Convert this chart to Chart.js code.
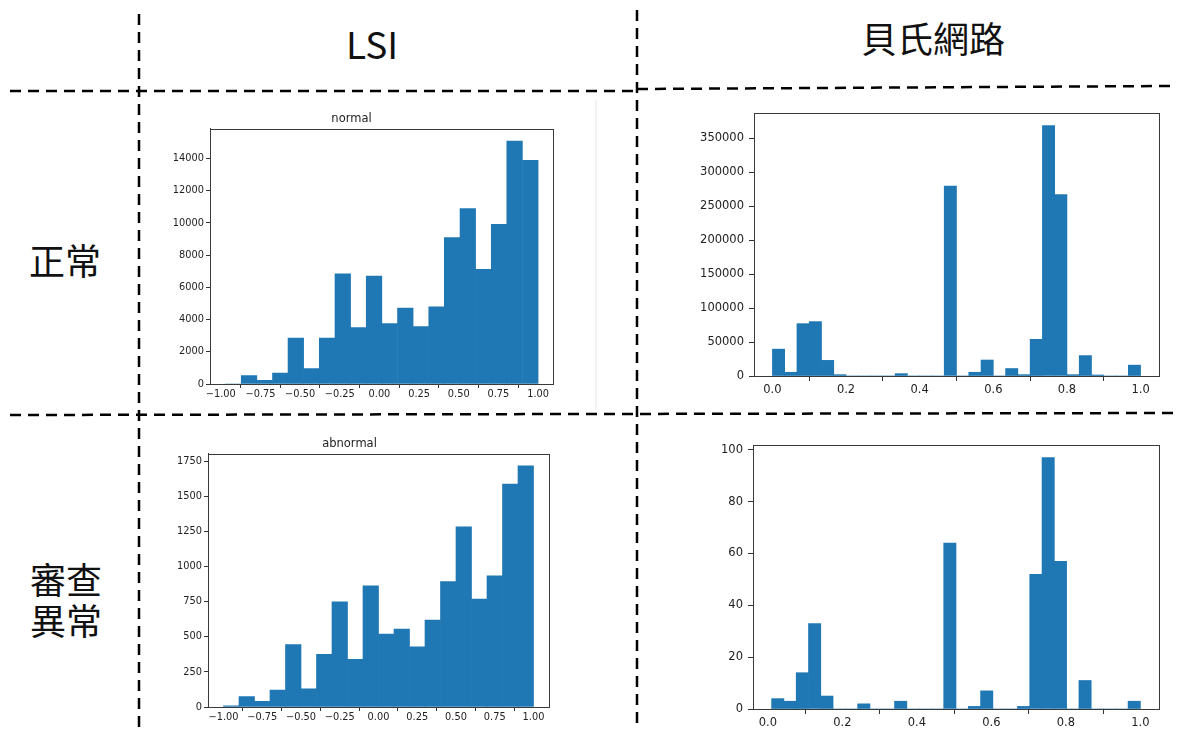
<!DOCTYPE html>
<html>
<head>
<meta charset="utf-8">
<script src="https://cdn.jsdelivr.net/npm/chart.js@4.4.1/dist/chart.umd.min.js"></script>
<style>
  html, body { margin: 0; padding: 0; background: #fff; }
  #stage { position: relative; width: 1178px; height: 730px; overflow: hidden; background: #fff; }
  canvas { position: absolute; }
  .lbl {
    position: absolute; transform: translate(-50%, -50%);
    font-family: "Noto Sans CJK TC", "Noto Sans", sans-serif;
    color: #111; white-space: nowrap; text-align: center;
  }
  svg { position: absolute; left: 0; top: 0; }
</style>
</head>
<body>
<div id="stage">
  <svg width="1178" height="730">
    <line x1="596" y1="100" x2="596" y2="410" stroke="#e6e6e6" stroke-width="1"/>
    <g stroke="#000" stroke-width="2.5" stroke-dasharray="11 7" fill="none">
      <line x1="139" y1="14" x2="139" y2="730"/>
      <line x1="637" y1="10" x2="637" y2="730"/>
      <line x1="10" y1="91" x2="637" y2="91"/>
      <line x1="637" y1="89" x2="1170" y2="86"/>
      <line x1="10" y1="415" x2="1175" y2="413"/>
    </g>
  </svg>

  <div class="lbl" style="left:372px; top:43px; font-size:37px;">LSI</div>
  <div class="lbl" style="left:933px; top:37px; font-size:36px; line-height:36px;">貝氏網路</div>
  <div class="lbl" style="left:65px; top:259px; font-size:36px; line-height:36px;">正常</div>
  <div class="lbl" style="left:66px; top:599px; font-size:36px; line-height:41px;">審查<br>異常</div>

  <canvas id="lsiNormal" width="420" height="310" style="left:150px; top:100px;"></canvas>
  <canvas id="bayesNormal" width="520" height="315" style="left:650px; top:95px;"></canvas>
  <canvas id="lsiAbnormal" width="420" height="305" style="left:150px; top:425px;"></canvas>
  <canvas id="bayesAbnormal" width="520" height="305" style="left:650px; top:425px;"></canvas>
</div>

<script>
// bin centres and counts
const lsiNormalBins = [-0.921, -0.822, -0.724, -0.625, -0.527, -0.428, -0.330, -0.231, -0.133, -0.034,
                       0.064, 0.163, 0.261, 0.360, 0.458, 0.557, 0.655, 0.754, 0.852, 0.951];
const lsiNormalCounts = [0, 520, 230, 680, 2850, 950, 2850, 6850, 3500, 6700,
                         3750, 4720, 3560, 4800, 9090, 10890, 7120, 9920, 15090, 13890];

const lsiAbnormalBins = [-0.95, -0.85, -0.75, -0.65, -0.55, -0.45, -0.35, -0.25, -0.15, -0.05,
                         0.05, 0.15, 0.25, 0.35, 0.45, 0.55, 0.65, 0.75, 0.85, 0.95];
const lsiAbnormalCounts = [8, 75, 40, 120, 445, 130, 375, 750, 340, 865,
                           520, 555, 430, 620, 895, 1285, 770, 935, 1590, 1720];

const bayesNormalBins = [0.0167, 0.05, 0.0833, 0.1167, 0.15, 0.1833, 0.2167, 0.25, 0.2833, 0.3167,
                         0.35, 0.3833, 0.4167, 0.45, 0.4833, 0.5167, 0.55, 0.5833, 0.6167, 0.65,
                         0.6833, 0.7167, 0.75, 0.7833, 0.8167, 0.85, 0.8833, 0.9167, 0.95, 0.9833];
const bayesNormalCounts = [39500, 5500, 77000, 80000, 23000, 2000, 0, 0, 0, 0,
                           3500, 0, 0, 0, 279500, 0, 5500, 23500, 0, 11000,
                           2000, 54000, 368500, 266800, 2000, 30000, 1500, 0, 0, 16000];

const bayesAbnormalBins = [0.0265, 0.0595, 0.0925, 0.1255, 0.1585, 0.1915, 0.2245, 0.2575, 0.2905, 0.3235,
                           0.3565, 0.3895, 0.4225, 0.4555, 0.4885, 0.5215, 0.5545, 0.5875, 0.6205, 0.6535,
                           0.6865, 0.7195, 0.7525, 0.7855, 0.8185, 0.8515, 0.8845, 0.9175, 0.9505, 0.9835];
const bayesAbnormalCounts = [4, 3, 14, 33, 5, 0, 0, 2, 0, 0,
                             3, 0, 0, 0, 64, 0, 1, 7, 0, 0,
                             1, 52, 97, 57, 0, 11, 0, 0, 0, 3];

// tick positions
const lsiXTicks = [-1, -0.75, -0.5, -0.25, 0, 0.25, 0.5, 0.75, 1];
const bayesXTicks = [0, 0.2, 0.4, 0.6, 0.8, 1.0];
const lsiNormalYTicks = [0, 2000, 4000, 6000, 8000, 10000, 12000, 14000];
const lsiAbnormalYTicks = [0, 250, 500, 750, 1000, 1250, 1500, 1750];
const bayesNormalYTicks = [0, 50000, 100000, 150000, 200000, 250000, 300000, 350000];
const bayesAbnormalYTicks = [0, 20, 40, 60, 80, 100];

const BAR_COLOR = "#1f77b4";
const TEXT_COLOR = "#222";
const FONT = "'DejaVu Sans', sans-serif";

// matplotlib-style box around the plot area
const frame = {
  id: "frame",
  afterDraw(chart) {
    const a = chart.chartArea, ctx = chart.ctx;
    ctx.save();
    ctx.strokeStyle = "#3a3a3a";
    ctx.lineWidth = 1;
    ctx.strokeRect(Math.round(a.left) + 0.5, Math.round(a.top) + 0.5,
                   Math.round(a.right - a.left), Math.round(a.bottom - a.top));
    ctx.restore();
  },
};

function minusFmt(digits) {
  return (v) => (v < 0 ? "\u2212" + Math.abs(v).toFixed(digits) : Number(v).toFixed(digits));
}

function makeHist(id, bins, counts, o) {
  new Chart(document.getElementById(id), {
    type: "bar",
    data: {
      datasets: [{
        data: bins.map((b, i) => ({ x: b, y: counts[i] })),
        backgroundColor: BAR_COLOR,
        borderWidth: 0,
        barPercentage: 1,
        categoryPercentage: 1,
      }],
    },
    options: {
      responsive: false,
      animation: false,
      devicePixelRatio: 1,
      layout: { padding: { top: o.padTop, right: o.padRight, left: 0, bottom: 0 } },
      plugins: {
        legend: { display: false },
        tooltip: { enabled: false },
        title: {
          display: !!o.title,
          text: o.title || "",
          color: TEXT_COLOR,
          font: { family: FONT, size: 11.5, weight: "normal" },
          padding: { top: 12, bottom: 3 },
        },
      },
      scales: {
        x: {
          type: "linear",
          min: o.xMin, max: o.xMax,
          offset: false,
          afterBuildTicks: (s) => { s.ticks = o.xTicks.map((v) => ({ value: v })); },
          afterFit: (s) => { s.height = o.xHeight; },
          grid: { drawOnChartArea: false, drawTicks: true, tickLength: o.tick, color: "#333" },
          border: { display: true, color: "#3a3a3a" },
          ticks: {
            color: TEXT_COLOR, padding: o.xPad, maxRotation: 0, autoSkip: false,
            font: { family: FONT, size: o.fontSize },
            callback: o.xFmt,
          },
        },
        y: {
          min: 0, max: o.yMax,
          afterBuildTicks: (s) => { s.ticks = o.yTicks.map((v) => ({ value: v })); },
          afterFit: (s) => { s.width = o.yWidth; },
          grid: { drawOnChartArea: false, drawTicks: true, tickLength: o.tick, color: "#333" },
          border: { display: true, color: "#3a3a3a" },
          ticks: {
            color: TEXT_COLOR, padding: o.yPad, autoSkip: false,
            font: { family: FONT, size: o.fontSize },
            callback: (v) => String(v),
          },
        },
      },
    },
    plugins: [frame],
  });
}

makeHist("lsiNormal", lsiNormalBins, lsiNormalCounts, {
  title: "normal", padTop: 0, padRight: 17,
  xMin: -1.068, xMax: 1.094, yMax: 15850,
  xTicks: lsiXTicks, yTicks: lsiNormalYTicks, xFmt: minusFmt(2),
  xHeight: 26, yWidth: 60, fontSize: 9.8, tick: 4, xPad: 1, yPad: 2,
});

makeHist("lsiAbnormal", lsiAbnormalBins, lsiAbnormalCounts, {
  title: "abnormal", padTop: 0, padRight: 21,
  xMin: -1.1, xMax: 1.1, yMax: 1806,
  xTicks: lsiXTicks, yTicks: lsiAbnormalYTicks, xFmt: minusFmt(2),
  xHeight: 23, yWidth: 58, fontSize: 9.8, tick: 4, xPad: 1, yPad: 2,
});

makeHist("bayesNormal", bayesNormalBins, bayesNormalCounts, {
  title: "", padTop: 18, padRight: 11,
  xMin: -0.05, xMax: 1.05, yMax: 386900,
  xTicks: bayesXTicks, yTicks: bayesNormalYTicks, xFmt: minusFmt(1),
  xHeight: 34, yWidth: 104, fontSize: 11.5, tick: 5, xPad: 2, yPad: 5,
});

makeHist("bayesAbnormal", bayesAbnormalBins, bayesAbnormalCounts, {
  title: "", padTop: 20, padRight: 11,
  xMin: -0.04, xMax: 1.05, yMax: 101.85,
  xTicks: bayesXTicks, yTicks: bayesAbnormalYTicks, xFmt: minusFmt(1),
  xHeight: 21, yWidth: 103, fontSize: 11.5, tick: 5, xPad: 2, yPad: 5,
});
</script>
</body>
</html>
